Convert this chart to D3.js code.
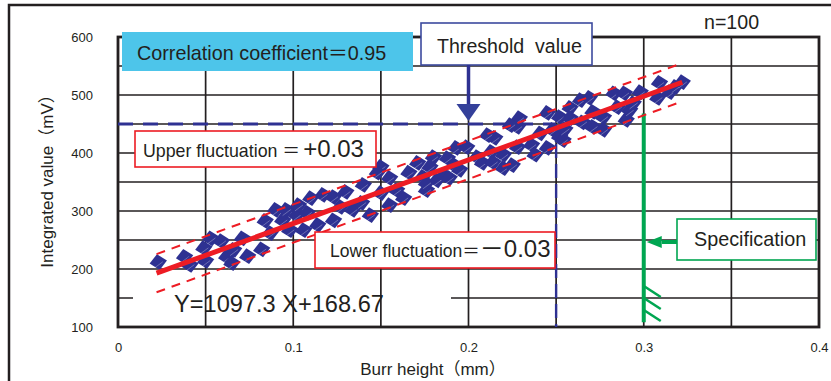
<!DOCTYPE html>
<html>
<head>
<meta charset="utf-8">
<script src="https://cdn.jsdelivr.net/npm/d3@7"></script>
<style>
  body { margin: 0; background: #fff; }
  svg text { font-family: "Liberation Sans", Arial, "Noto Sans CJK JP", sans-serif; fill: #231f20; }
</style>
</head>
<body>
<svg id="chart" width="831" height="381"></svg>
<script>
// burr height (mm) vs integrated value (mV), n = 100
const burrHeight = [
  0.023, 0.038, 0.041, 0.050, 0.053, 0.049, 0.059, 0.062, 0.065, 0.066,
  0.071, 0.074, 0.082, 0.084, 0.090, 0.087, 0.094, 0.096, 0.098, 0.102,
  0.103, 0.106, 0.108, 0.110, 0.114, 0.117, 0.123, 0.127, 0.130, 0.134,
  0.139, 0.144, 0.150, 0.150, 0.155, 0.155, 0.159, 0.163, 0.171, 0.174,
  0.176, 0.140, 0.148, 0.166, 0.123, 0.180, 0.178, 0.182, 0.176, 0.186,
  0.188, 0.189, 0.192, 0.193, 0.195, 0.199, 0.205, 0.208, 0.213, 0.214,
  0.215, 0.220, 0.220, 0.225, 0.228, 0.228, 0.236, 0.238, 0.241, 0.245,
  0.245, 0.248, 0.252, 0.252, 0.254, 0.258, 0.258, 0.264, 0.265, 0.269,
  0.271, 0.271, 0.277, 0.277, 0.283, 0.285, 0.289, 0.290, 0.292, 0.298,
  0.308, 0.309, 0.315, 0.318, 0.255, 0.229, 0.224, 0.211, 0.294, 0.322
]
const integratedValue = [
  212, 221, 207, 214, 253, 236, 248, 221, 210, 233,
  253, 222, 234, 283, 302, 262, 284, 302, 267, 293,
  310, 267, 297, 322, 276, 328, 284, 307, 333, 302,
  314, 293, 331, 376, 357, 310, 336, 322, 383, 359,
  336, 345, 366, 366, 324, 393, 376, 353, 348, 362,
  391, 357, 379, 409, 371, 410, 393, 383, 402, 384,
  426, 397, 374, 379, 410, 445, 414, 397, 434, 469,
  409, 440, 462, 428, 422, 478, 460, 491, 453, 495,
  471, 445, 462, 440, 503, 479, 503, 457, 474, 505,
  495, 521, 505, 514, 441, 460, 448, 431, 486, 522
]
const xTicks = [0, 0.1, 0.2, 0.3, 0.4]
const yTicks = [100, 200, 300, 400, 500, 600]
const xGrid = [0.05, 0.1, 0.15, 0.2, 0.25, 0.3, 0.35]
const yGrid = [150, 200, 250, 300, 350, 400, 450, 500, 550]

// regression Y = 1097.3 X + 168.67, fluctuation band +-0.03 mm
const slope = 1097.3
const intercept = 168.67
const fitRange = [0.022, 0.322]
const fluctuation = 0.03
const thresholdX = 0.25
const thresholdY = 450
const specX = 0.3

const navy = '#2e3192'
const red = '#ed1c24'
const green = '#00a651'

const svg = d3.select('#chart')
const x = d3.scaleLinear().domain([0, 0.4]).range([118, 819])
const y = d3.scaleLinear().domain([100, 600]).range([327, 37])

// outer frame (top + left only, cropped figure)
svg.append('path').attr('d', 'M9,381V5H831').attr('fill', 'none').attr('stroke', '#231f20').attr('stroke-width', 2.5)

// grid
const grid = svg.append('g').attr('stroke', '#231f20').attr('stroke-width', 1.7)
grid.selectAll('.hgrid').data(yGrid).enter().append('line')
  .attr('class', 'hgrid')
  .attr('x1', x(0)).attr('x2', x(0.4))
  .attr('y1', (d) => y(d)).attr('y2', (d) => y(d))
// white band behind the equation text hides the 150 line
svg.append('rect').attr('x', 133).attr('y', y(150) - 3).attr('width', 318).attr('height', 6).attr('fill', '#fff')
svg.append('g').attr('stroke', '#231f20').attr('stroke-width', 1.7)
  .selectAll('line').data(xGrid).enter().append('line')
  .attr('x1', (d) => x(d)).attr('x2', (d) => x(d))
  .attr('y1', y(600)).attr('y2', y(100))
svg.append('rect')
  .attr('x', x(0)).attr('y', y(600))
  .attr('width', x(0.4) - x(0)).attr('height', y(100) - y(600))
  .attr('fill', 'none').attr('stroke', '#231f20').attr('stroke-width', 2.8)

// axes labels
const xAxis = svg.append('g').attr('transform', `translate(0,${y(100)})`)
  .call(d3.axisBottom(x).tickValues(xTicks).tickSize(0).tickPadding(16).tickFormat((d) => d === 0 ? '0' : d3.format('.1f')(d)))
xAxis.select('.domain').remove()
xAxis.selectAll('text').attr('font-size', 13).attr('font-family', null)
const yAxis = svg.append('g').attr('transform', `translate(${x(0)},0)`)
  .call(d3.axisLeft(y).tickValues(yTicks).tickSize(0).tickPadding(25))
yAxis.select('.domain').remove()
yAxis.selectAll('text').attr('font-size', 13).attr('font-family', null)

svg.append('text').attr('x', 433).attr('y', 375).attr('text-anchor', 'middle').attr('font-size', 17)
  .text('Burr height（mm）')
svg.append('text').attr('transform', 'translate(53,177) rotate(-90)').attr('text-anchor', 'middle').attr('font-size', 17)
  .text('Integrated value（mV）')

// threshold dashed lines
svg.append('line')
  .attr('x1', x(0)).attr('x2', x(thresholdX))
  .attr('y1', y(thresholdY)).attr('y2', y(thresholdY))
  .attr('stroke', navy).attr('stroke-width', 3.2).attr('stroke-dasharray', '15,10')
svg.append('line')
  .attr('x1', x(thresholdX)).attr('x2', x(thresholdX))
  .attr('y1', y(thresholdY)).attr('y2', y(100))
  .attr('stroke', navy).attr('stroke-width', 2.4).attr('stroke-dasharray', '14,6')

// specification line with hatching
const sx = x(specX)
svg.append('line').attr('x1', sx).attr('x2', sx).attr('y1', y(468)).attr('y2', y(108))
  .attr('stroke', green).attr('stroke-width', 4)
svg.append('g').attr('stroke', green).attr('stroke-width', 2.6)
  .selectAll('line').data([41, 29, 17]).enter().append('line')
  .attr('x1', sx).attr('y1', (d) => y(100) - d)
  .attr('x2', sx + 17).attr('y2', (d) => y(100) - d + 11)

// scatter points
const pts = burrHeight.map((b, i) => [b, integratedValue[i]])
const marks = svg.append('g').selectAll('g').data(pts).enter().append('g')
  .attr('transform', (d) => `translate(${x(d[0])},${y(d[1])}) rotate(-10)`)
marks.append('path').attr('d', 'M0,-8L8.8,0L0,8L-8.8,0Z').attr('fill', navy)
marks.append('line').attr('x1', -4.5).attr('y1', 5).attr('x2', 4.5).attr('y2', 0.5)
  .attr('stroke', '#fff').attr('stroke-opacity', 0.45).attr('stroke-width', 0.6)

// regression and fluctuation band
const fit = (v) => slope * v + intercept
const line = d3.line().x((d) => x(d[0])).y((d) => y(d[1]))
svg.append('path').attr('d', line(fitRange.map((v) => [v, fit(v + fluctuation)])))
  .attr('fill', 'none').attr('stroke', red).attr('stroke-width', 2).attr('stroke-dasharray', '9,7')
svg.append('path').attr('d', line(fitRange.map((v) => [v, fit(v - fluctuation)])))
  .attr('fill', 'none').attr('stroke', red).attr('stroke-width', 2).attr('stroke-dasharray', '9,7')
svg.append('path').attr('d', line(fitRange.map((v) => [v, fit(v)])))
  .attr('fill', 'none').attr('stroke', red).attr('stroke-width', 5)

// annotation boxes
svg.append('rect').attr('x', 122).attr('y', 32).attr('width', 291).attr('height', 39).attr('fill', '#4dc5ea')
svg.append('text').attr('x', 137).attr('y', 60).attr('font-size', 19.8).text('Correlation coefficient＝0.95')

svg.append('rect').attr('x', 421).attr('y', 23).attr('width', 171).attr('height', 42)
  .attr('fill', '#fff').attr('stroke', '#3c4a9e').attr('stroke-width', 1.6)
svg.append('text').attr('x', 437).attr('y', 53).attr('font-size', 19.6).attr('xml:space', 'preserve').text('Threshold  value')
const ax = x(0.2)
svg.append('line').attr('x1', ax).attr('x2', ax).attr('y1', 65).attr('y2', 105)
  .attr('stroke', navy).attr('stroke-width', 3.5)
svg.append('path').attr('d', `M${ax - 12},104L${ax + 12},104L${ax},${y(thresholdY) - 3}Z`).attr('fill', '#34409a')

svg.append('text').attr('x', 704).attr('y', 29).attr('font-size', 19.6).text('n=100')

svg.append('rect').attr('x', 135).attr('y', 131).attr('width', 241).attr('height', 36)
  .attr('fill', '#fff').attr('stroke', red).attr('stroke-width', 1.6)
const up = svg.append('text').attr('x', 143).attr('y', 157).attr('font-size', 17.8)
up.append('tspan').text('Upper fluctuation ＝')
up.append('tspan').attr('font-size', 24).attr('dx', 3).text('+0.03')

svg.append('rect').attr('x', 315).attr('y', 232).attr('width', 240).attr('height', 36)
  .attr('fill', '#fff').attr('stroke', red).attr('stroke-width', 1.6)
const lo = svg.append('text').attr('x', 330).attr('y', 257).attr('font-size', 17.5)
lo.append('tspan').text('Lower fluctuation＝')
lo.append('tspan').attr('font-size', 24).text('－0.03')

svg.append('text').attr('x', 174).attr('y', 312).attr('font-size', 23.6).text('Y=1097.3 X+168.67')

svg.append('rect').attr('x', 677).attr('y', 219).attr('width', 139).attr('height', 41)
  .attr('fill', '#fff').attr('stroke', green).attr('stroke-width', 1.6)
svg.append('text').attr('x', 694).attr('y', 246).attr('font-size', 19.8).text('Specification')
svg.append('line').attr('x1', 662).attr('x2', 677).attr('y1', 242).attr('y2', 242)
  .attr('stroke', green).attr('stroke-width', 4)
svg.append('path').attr('d', `M${sx + 3},242L${sx + 18},236L${sx + 18},248Z`).attr('fill', green)
</script>
</body>
</html>
